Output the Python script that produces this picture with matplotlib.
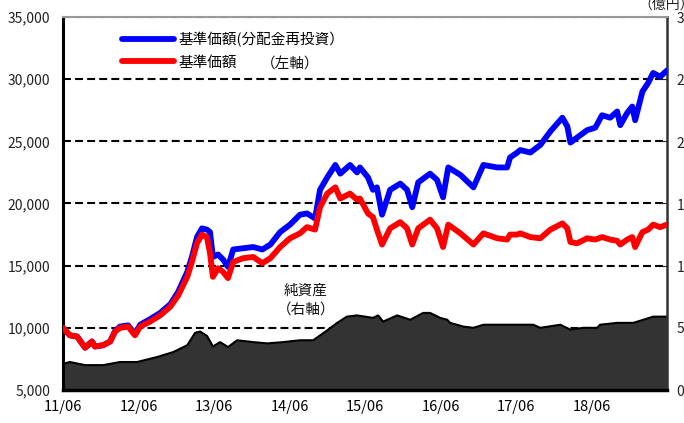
import numpy as np
import pandas as pd
import matplotlib
matplotlib.use("Agg")
import matplotlib.pyplot as plt
import matplotlib.dates as mdates
from matplotlib.ticker import FuncFormatter, MultipleLocator

plt.rcParams['font.family'] = ['Noto Sans CJK JP', 'DejaVu Sans']

# 基準価額 / 基準価額(分配金再投資)  (左軸, 円)
price_dates = [
    "2011-06-01", "2011-07-04", "2011-08-08", "2011-09-16", "2011-10-19", "2011-11-03",
    "2011-12-12", "2012-01-15", "2012-02-08", "2012-03-03", "2012-04-11", "2012-05-14",
    "2012-06-08", "2012-07-26", "2012-09-13", "2012-11-01", "2012-12-09", "2013-01-22",
    "2013-02-15", "2013-03-10", "2013-04-03", "2013-04-27", "2013-05-12", "2013-05-26",
    "2013-06-20", "2013-07-14", "2013-08-07", "2013-09-01", "2013-10-19", "2013-12-07",
    "2014-01-20", "2014-02-28", "2014-04-16", "2014-06-03", "2014-07-21", "2014-08-24",
    "2014-10-02", "2014-10-26", "2014-11-30", "2015-01-08", "2015-02-01", "2015-03-20",
    "2015-04-23", "2015-05-07", "2015-06-15", "2015-07-09", "2015-07-28", "2015-08-22",
    "2015-09-30", "2015-11-18", "2015-12-21", "2016-01-15", "2016-02-13", "2016-04-10",
    "2016-05-14", "2016-06-12", "2016-07-07", "2016-09-04", "2016-11-06", "2016-12-24",
    "2017-03-01", "2017-04-18", "2017-05-02", "2017-06-06", "2017-06-20", "2017-08-08",
    "2017-09-25", "2017-11-13", "2018-01-10", "2018-02-03", "2018-02-18", "2018-03-22",
    "2018-05-10", "2018-06-18", "2018-07-21", "2018-08-29", "2018-10-02", "2018-10-17",
    "2018-11-20", "2018-12-14", "2018-12-28", "2019-02-01", "2019-03-01", "2019-03-25",
    "2019-04-28", "2019-05-31",
]
nav = [
    10000, 9400, 9300, 8400, 8900, 8500,
    8600, 8900, 9700, 10000, 10100, 9400,
    10100, 10500, 11000, 11700, 12600, 14100,
    15400, 16800, 17500, 17300, 16000, 14100,
    14800, 14500, 14000, 15300, 15600, 15700,
    15200, 15600, 16500, 17200, 17600, 18100,
    17900, 19700, 20800, 21300, 20400, 20800,
    20300, 20400, 19200, 18900, 17900, 16700,
    18000, 18500, 18000, 16700, 18000, 18700,
    18000, 16500, 18300, 17600, 16700, 17600,
    17200, 17100, 17500, 17500, 17600, 17300,
    17200, 17900, 18400, 18000, 16900, 16800,
    17200, 17100, 17300, 17100, 17000, 16700,
    17100, 17300, 16500, 17700, 17900, 18300,
    18100, 18300,
]
nav_reinvest = [
    10000, 9400, 9300, 8400, 8900, 8500,
    8600, 8900, 9750, 10100, 10200, 9500,
    10250, 10700, 11200, 11900, 12900, 14500,
    15800, 17300, 18000, 17900, 17700, 15700,
    15900, 15500, 14900, 16300, 16400, 16500,
    16300, 16700, 17700, 18300, 19100, 19200,
    18800, 21100, 22100, 23100, 22400, 23100,
    22500, 22900, 22100, 21100, 21300, 19100,
    21100, 21600, 21100, 19700, 21700, 22400,
    21900, 20500, 22900, 22300, 21300, 23100,
    22900, 22900, 23700, 24100, 24300, 24100,
    24700, 25800, 26900, 26200, 24900, 25300,
    25900, 26100, 27100, 26900, 27400, 26300,
    27300, 27800, 26700, 29000, 29700, 30500,
    30200, 30700,
]

# 純資産 (右軸, 億円)
asset_dates = [
    "2011-06-01", "2011-07-04", "2011-09-16", "2011-12-12", "2012-03-03", "2012-05-24",
    "2012-08-29", "2012-11-15", "2013-01-22", "2013-03-01", "2013-03-25", "2013-04-27",
    "2013-05-26", "2013-06-30", "2013-08-07", "2013-09-20", "2013-12-07", "2014-02-13",
    "2014-04-30", "2014-07-21", "2014-09-23", "2014-11-30", "2015-01-17", "2015-03-05",
    "2015-04-23", "2015-07-09", "2015-08-03", "2015-08-27", "2015-11-03", "2016-01-05",
    "2016-03-08", "2016-04-10", "2016-05-29", "2016-07-02", "2016-07-16", "2016-09-18",
    "2016-11-06", "2016-12-24", "2017-03-15", "2017-06-20", "2017-08-22", "2017-09-25",
    "2017-12-31", "2018-02-18", "2018-04-21", "2018-06-27", "2018-07-11", "2018-10-02",
    "2018-12-19", "2019-02-06", "2019-03-25", "2019-05-31",
]
net_assets = [
    210, 225, 200, 200, 225, 225,
    265, 305, 360, 460, 470, 435,
    350, 385, 345, 400, 385, 375,
    385, 400, 400, 480, 540, 590,
    600, 580, 600, 550, 600, 565,
    620, 620, 580, 565, 540, 510,
    500, 525, 525, 525, 525, 500,
    525, 485, 500, 500, 525, 540,
    540, 565, 590, 590,
]

tick_years = list(range(2011, 2019))

pdates = pd.to_datetime(price_dates)
adates = pd.to_datetime(asset_dates)

fig = plt.figure(figsize=(6.84, 4.23), dpi=100)
ax2 = fig.add_axes([63 / 684, 33 / 423, 604 / 684, 373 / 423])
ax = ax2.twinx()
ax.yaxis.tick_left()
ax.yaxis.set_label_position('left')
ax2.yaxis.tick_right()

# right axis: net assets area + grid (grid positions coincide with left axis)
ax2.set_ylim(0, 3000)
ax2.yaxis.set_major_locator(MultipleLocator(500))
ax2.set_axisbelow(True)
ax2.yaxis.grid(True, color='black', linewidth=1.5, linestyle=(0, (3.8, 2.0)))
ax2.fill_between(adates, 0, net_assets, color='#333333', zorder=2)
ax2.plot(adates, net_assets, color='black', linewidth=1.5, zorder=3)
ax2.yaxis.set_major_formatter(FuncFormatter(lambda v, p: f"{int(v):,}"))
ax2.tick_params(axis='y', direction='in', length=4, pad=7, labelsize=10,
                colors='#222222')
ax2.tick_params(axis='x', direction='in', length=4, width=1, pad=7, labelsize=10.5)

# left axis: prices
ax.set_ylim(5000, 35000)
ax.yaxis.set_major_locator(MultipleLocator(5000))
ax.yaxis.set_major_formatter(FuncFormatter(lambda v, p: f"{int(v):,}"))
ax.tick_params(axis='y', direction='in', length=0, pad=9, labelsize=10,
               colors='#222222')
l1, = ax.plot(pdates, nav_reinvest, color='#0000ff', linewidth=4.2,
              solid_joinstyle='round', solid_capstyle='round', zorder=4)
l2, = ax.plot(pdates, nav, color='#ff0000', linewidth=4.2,
              solid_joinstyle='round', solid_capstyle='round', zorder=5)

ax2.set_xlim(pd.Timestamp("2011-06-01"), pd.Timestamp("2019-05-31"))
ax2.set_xticks([pd.Timestamp(f"{y}-06-01") for y in tick_years])
ax2.xaxis.set_major_formatter(mdates.DateFormatter("%y/%m"))

for a in (ax, ax2):
    for s in a.spines.values():
        s.set_visible(False)
ax.spines['left'].set_visible(True)
ax.spines['left'].set_color('black')
ax.spines['left'].set_linewidth(2.2)
ax.spines['bottom'].set_visible(True)
ax.spines['bottom'].set_color('black')
ax.spines['bottom'].set_linewidth(2.5)
ax.spines['right'].set_visible(True)
ax.spines['right'].set_color('#333333')
ax.spines['right'].set_linewidth(1.8)
ax.spines['top'].set_visible(True)
ax.spines['top'].set_color('#999999')
ax.spines['top'].set_linewidth(1.5)

leg = ax.legend([l1, l2], ["基準価額(分配金再投資）", "基準価額"],
                loc='upper left', bbox_to_anchor=(0.088, 0.975), frameon=False,
                fontsize=10.5, handlelength=3.6, handletextpad=0.3,
                labelspacing=0.55, borderaxespad=0)
leg.set_zorder(10)

ax.text(0.328, 0.872, "（左軸）", transform=ax.transAxes, fontsize=10.5,
        ha='left', va='center', color='#111111', zorder=10)
ax.text(0.402, 0.24, "純資産\n（右軸）", transform=ax.transAxes, fontsize=10.5,
        ha='center', va='center', linespacing=1.45, color='#111111', zorder=10)
fig.text(638 / 684, 1 - 5 / 423, "（億円）", fontsize=10, ha='left', va='center',
         color='#222222')

fig.savefig("out.png", dpi=100)
